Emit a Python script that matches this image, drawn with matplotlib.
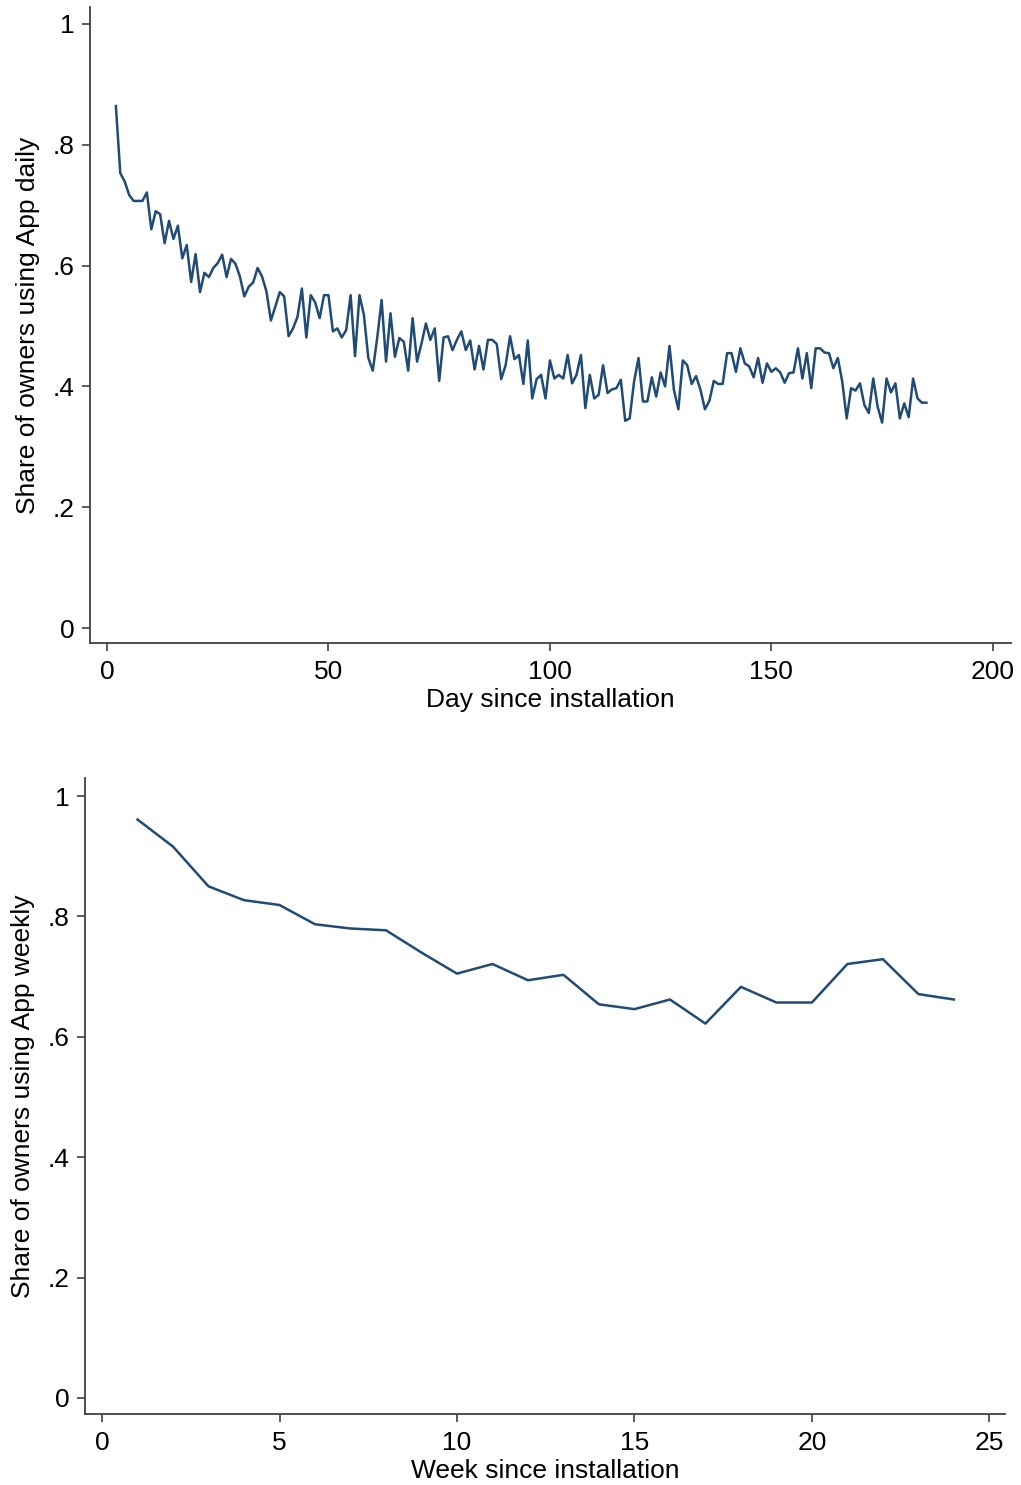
import matplotlib
matplotlib.use("Agg")
import matplotlib.pyplot as plt

plt.rcParams['font.family'] = ['Liberation Sans', 'DejaVu Sans']

# Daily share (days 2..185)
days = list(range(2, 186))
daily_share = [
    0.864, 0.753, 0.739, 0.717, 0.707, 0.707, 0.707, 0.721, 0.660, 0.690,  # 2-11
    0.685, 0.637, 0.674, 0.644, 0.666, 0.612, 0.634, 0.573, 0.619, 0.556,  # 12-21
    0.588, 0.581, 0.596, 0.604, 0.618, 0.581, 0.611, 0.603, 0.582, 0.549,  # 22-31
    0.565, 0.572, 0.596, 0.582, 0.557, 0.509, 0.532, 0.556, 0.549, 0.483,  # 32-41
    0.496, 0.515, 0.562, 0.481, 0.551, 0.539, 0.513, 0.551, 0.551, 0.491,  # 42-51
    0.496, 0.481, 0.493, 0.551, 0.450, 0.551, 0.518, 0.447, 0.426, 0.480,  # 52-61
    0.543, 0.441, 0.521, 0.449, 0.480, 0.474, 0.426, 0.513, 0.441, 0.471,  # 62-71
    0.504, 0.477, 0.496, 0.409, 0.481, 0.483, 0.460, 0.477, 0.491, 0.460,  # 72-81
    0.476, 0.428, 0.467, 0.428, 0.477, 0.477, 0.470, 0.412, 0.435, 0.483,  # 82-91
    0.445, 0.452, 0.404, 0.476, 0.380, 0.412, 0.419, 0.380, 0.443, 0.413,  # 92-101
    0.419, 0.413, 0.452, 0.405, 0.419, 0.452, 0.364, 0.419, 0.380, 0.386,  # 102-111
    0.435, 0.389, 0.395, 0.397, 0.411, 0.343, 0.347, 0.408, 0.447, 0.375,  # 112-121
    0.375, 0.415, 0.383, 0.423, 0.400, 0.467, 0.394, 0.362, 0.443, 0.435,  # 122-131
    0.404, 0.417, 0.394, 0.362, 0.376, 0.409, 0.404, 0.404, 0.455, 0.455,  # 132-141
    0.424, 0.463, 0.438, 0.433, 0.415, 0.447, 0.406, 0.438, 0.424, 0.430,  # 142-151
    0.423, 0.406, 0.422, 0.423, 0.463, 0.413, 0.455, 0.397, 0.463, 0.463,  # 152-161
    0.456, 0.455, 0.430, 0.447, 0.408, 0.347, 0.397, 0.393, 0.405, 0.369,  # 162-171
    0.356, 0.413, 0.366, 0.340, 0.413, 0.390, 0.405, 0.347, 0.372, 0.349,  # 172-181
    0.413, 0.380, 0.373, 0.373,                                            # 182-185
]

# Weekly share (weeks 1..24)
weeks = list(range(1, 25))
weekly_share = [
    0.961, 0.916, 0.850, 0.827, 0.819, 0.787, 0.780, 0.777, 0.740, 0.705,
    0.721, 0.694, 0.703, 0.654, 0.646, 0.662, 0.622, 0.683, 0.657, 0.657,
    0.721, 0.729, 0.671, 0.662,
]

y_ticks = [0, 0.2, 0.4, 0.6, 0.8, 1.0]
y_tick_labels = ["0", ".2", ".4", ".6", ".8", "1"]
day_ticks = [0, 50, 100, 150, 200]
week_ticks = [0, 5, 10, 15, 20, 25]

line_color = "#1f4b75"
axis_color = "#404040"
fs = 19

fig = plt.figure(figsize=(10.21, 14.85), dpi=100)
ax1 = fig.add_axes([90/1021, 1 - 643/1485, (1011-90)/1021, (643-7)/1485])
ax2 = fig.add_axes([85/1021, 1 - 1414/1485, (1005-85)/1021, (1414-778)/1485])

def style(ax):
    for s in ["top", "right"]:
        ax.spines[s].set_visible(False)
    for s in ["left", "bottom"]:
        ax.spines[s].set_color(axis_color)
        ax.spines[s].set_linewidth(1.3)
    ax.tick_params(axis="both", direction="out", length=6, width=1.2,
                   color=axis_color, labelsize=fs, labelcolor="black")
    ax.tick_params(axis="x", pad=6)
    ax.tick_params(axis="y", pad=5)
    ax.set_yticks(y_ticks)
    ax.set_yticklabels(y_tick_labels)

ax1.plot(days, daily_share, color=line_color, linewidth=1.8)
style(ax1)
ax1.set_xlim(-3.84, 204.1)
ax1.set_ylim(-0.0248, 1.028)
ax1.set_xticks(day_ticks)
ax1.set_xlabel("Day since installation", fontsize=fs, labelpad=3)
ax1.set_ylabel("Share of owners using App daily", fontsize=fs, labelpad=9)

ax2.plot(weeks, weekly_share, color=line_color, linewidth=1.8)
style(ax2)
ax2.set_xlim(-0.48, 25.44)
ax2.set_ylim(-0.0266, 1.03)
ax2.set_xticks(week_ticks)
ax2.set_xlabel("Week since installation", fontsize=fs, labelpad=3)
ax2.set_ylabel("Share of owners using App weekly", fontsize=fs, labelpad=9)

fig.savefig("out.png", dpi=100)
